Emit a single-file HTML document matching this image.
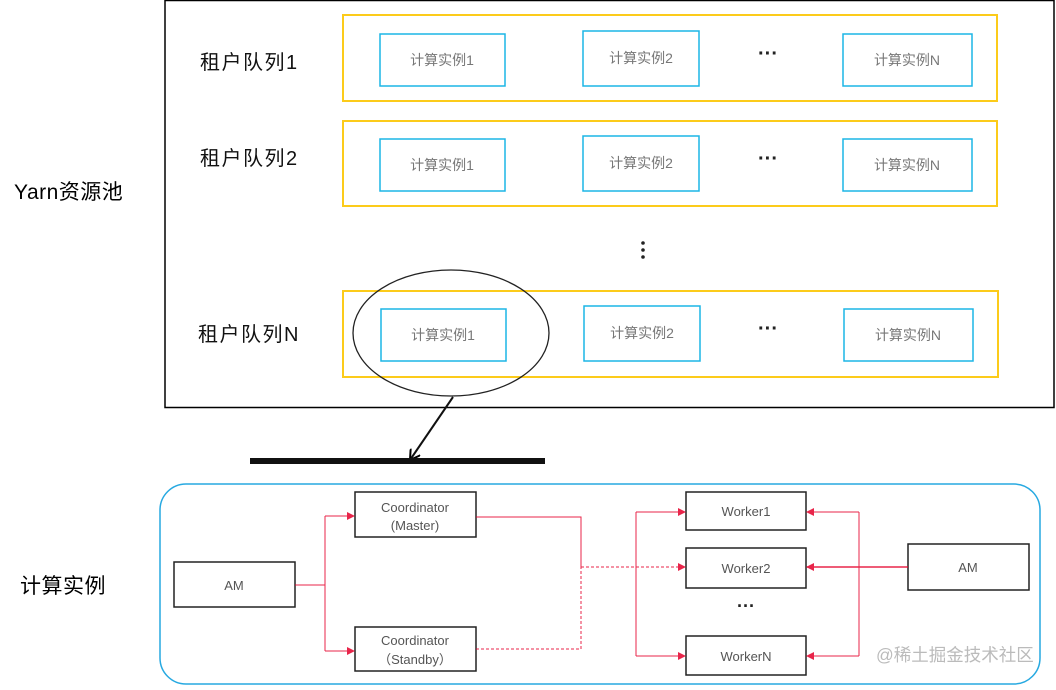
<!DOCTYPE html>
<html><head><meta charset="utf-8"><style>
html,body{margin:0;padding:0;background:#fff;}
svg text{font-family:"Liberation Sans","Noto Sans CJK SC",sans-serif;}
</style></head><body>
<svg width="1056" height="685" viewBox="0 0 1056 685" xmlns="http://www.w3.org/2000/svg">
<defs>
<marker id="ra" markerWidth="8" markerHeight="8" refX="7" refY="4" orient="auto" markerUnits="userSpaceOnUse"><path d="M0,0 L8,4 L0,8 z" fill="#e4002b"/></marker>
<marker id="ka" markerWidth="12" markerHeight="12" refX="10" refY="6" orient="auto" markerUnits="userSpaceOnUse"><path d="M0,0 L10,6 L0,12" fill="none" stroke="#000" stroke-width="2"/></marker>
</defs>
<text x="14" y="199" font-size="21" fill="#000" letter-spacing="0.5">Yarn资源池</text>
<rect x="165" y="0.5" width="889" height="407" fill="none" stroke="#000" stroke-width="1.5"/>
<g font-size="20" fill="#111" letter-spacing="1.5">
<text x="200" y="69">租户队列1</text>
<text x="200" y="165">租户队列2</text>
<text x="198" y="341">租户队列N</text>
</g>
<g fill="none" stroke="#fccb1a" stroke-width="2">
<rect x="343" y="15" width="654" height="86"/>
<rect x="343" y="121" width="654" height="85"/>
<rect x="343" y="291" width="655" height="86"/>
</g>
<g fill="#fff" stroke="#1cb5e6" stroke-width="1.5">
<rect x="380" y="34" width="125" height="52"/><rect x="583" y="31" width="116" height="55"/><rect x="843" y="34" width="129" height="52"/>
<rect x="380" y="139" width="125" height="52"/><rect x="583" y="136" width="116" height="55"/><rect x="843" y="139" width="129" height="52"/>
<rect x="381" y="309" width="125" height="52"/><rect x="584" y="306" width="116" height="55"/><rect x="844" y="309" width="129" height="52"/>
</g>
<g font-size="14" fill="#777" text-anchor="middle">
<text x="442" y="65">计算实例1</text><text x="641" y="63">计算实例2</text><text x="907" y="65">计算实例N</text>
<text x="442" y="170">计算实例1</text><text x="641" y="168">计算实例2</text><text x="907" y="170">计算实例N</text>
<text x="443" y="340">计算实例1</text><text x="642" y="338">计算实例2</text><text x="908" y="340">计算实例N</text>
</g>
<g font-size="20" font-weight="bold" fill="#222" text-anchor="middle">
<text x="768" y="60">···</text><text x="768" y="165">···</text><text x="768" y="335">···</text>
</g>
<g fill="#222"><circle cx="643" cy="243" r="1.8"/><circle cx="643" cy="250" r="1.8"/><circle cx="643" cy="257" r="1.8"/></g>
<ellipse cx="451" cy="333" rx="98" ry="63" fill="none" stroke="#222" stroke-width="1.3"/>
<line x1="453" y1="397" x2="410" y2="460" stroke="#111" stroke-width="2" marker-end="url(#ka)"/>
<rect x="250" y="458" width="295" height="6" fill="#111"/>
<text x="20" y="593" font-size="21" fill="#000" letter-spacing="0.5">计算实例</text>
<rect x="160" y="484" width="880" height="200" rx="26" fill="none" stroke="#27a9e1" stroke-width="1.5"/>
<g fill="#fff" stroke="#222" stroke-width="1.5">
<rect x="355" y="492" width="121" height="45"/>
<rect x="355" y="627" width="121" height="44"/>
<rect x="174" y="562" width="121" height="45"/>
<rect x="908" y="544" width="121" height="46"/>
<rect x="686" y="492" width="120" height="38"/>
<rect x="686" y="548" width="120" height="40"/>
<rect x="686" y="636" width="120" height="39"/>
</g>
<g font-size="13" fill="#555" text-anchor="middle">
<text x="415" y="512">Coordinator</text><text x="415" y="530">(Master)</text>
<text x="415" y="645">Coordinator</text><text x="415" y="664">（Standby）</text>
<text x="234" y="590">AM</text><text x="968" y="572">AM</text>
<text x="746" y="516">Worker1</text><text x="746" y="573">Worker2</text><text x="746" y="661">WorkerN</text>
</g>
<text x="746" y="612" font-size="18" font-weight="bold" fill="#222" text-anchor="middle">···</text>
<g fill="none" stroke="#e4002b" stroke-width="1" opacity="0.85">
<polyline points="295,585 325,585"/>
<polyline points="325,516 325,651"/>
<line x1="325" y1="516" x2="354" y2="516" marker-end="url(#ra)"/>
<line x1="325" y1="651" x2="354" y2="651" marker-end="url(#ra)"/>
<polyline points="476,517 581,517 581,567"/>
<polyline points="476,649 581,649 581,567" stroke-dasharray="3,2"/>
<line x1="581" y1="567" x2="685" y2="567" stroke-dasharray="3,2" marker-end="url(#ra)"/>
<polyline points="636,512 636,656"/>
<line x1="636" y1="512" x2="685" y2="512" marker-end="url(#ra)"/>
<line x1="636" y1="656" x2="685" y2="656" marker-end="url(#ra)"/>
<line x1="908" y1="567" x2="807" y2="567" stroke-width="1.5" marker-end="url(#ra)"/>
<polyline points="859,512 859,656"/>
<line x1="859" y1="512" x2="807" y2="512" marker-end="url(#ra)"/>
<line x1="859" y1="656" x2="807" y2="656" marker-end="url(#ra)"/>
</g>
<text x="876" y="661" font-size="17.5" fill="#bbb">@稀土掘金技术社区</text>
</svg>
</body></html>
